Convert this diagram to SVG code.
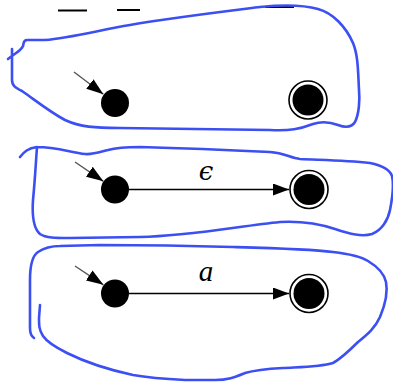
<svg xmlns="http://www.w3.org/2000/svg" width="393" height="383" viewBox="0 0 393 383">
<style>
.blob{fill:none;stroke:#3b4ff2;stroke-width:2.6;stroke-linecap:round;stroke-linejoin:round}
.start{fill:#000}
.ring{fill:#fff;stroke:#000;stroke-width:1.6}
.core{fill:#000}
.edge{stroke:#000;stroke-width:1.5;fill:none}
.init{stroke:#555;stroke-width:1.4;fill:none}
.lbl{font-family:"DejaVu Serif","Liberation Serif",serif;font-style:italic;font-size:26px;fill:#000;text-anchor:middle}
.ul{stroke:#000;stroke-width:2}
</style>
<defs>
<marker id="ah" markerUnits="userSpaceOnUse" markerWidth="16" markerHeight="12" refX="16" refY="6" orient="auto"><path d="M0,0 L16,6 L0,12 z" fill="#000"/></marker>
<marker id="ahi" markerUnits="userSpaceOnUse" markerWidth="17" markerHeight="12" refX="17" refY="6" orient="auto"><path d="M0,0 L17,6 L0,12 z" fill="#000"/></marker>
</defs>
<rect width="393" height="383" fill="#fff"/>
<g id="top-underlines">
<line class="ul" x1="58" y1="10.5" x2="87" y2="10.5"/>
<line class="ul" x1="117" y1="10" x2="140" y2="10"/>
<line class="ul" x1="265" y1="7" x2="294" y2="7"/>
</g>
<g id="outlines">
<path class="blob" d="M12,49 L12,80 C12,86 16,88 22,91 C35,100 50,112 65,120 C80,127 95,128 120,128 L270,130 C290,131 300,129 313,124 C322,121 330,122 338,125 C346,128 352,127 355,122 C359,114 360,100 359,90 C358,70 358,55 353,43 C346,27 333,13 318,9 C300,4 280,5 260,7 C220,12 170,18 130,25 C100,30 70,38 45,40 L27,40 C23,40 24,43 23,46 C21,51 14,54 8,59"/>
<path class="blob" d="M20,157 C24,152 28,148 37,147 C36,160 35,180 33,200 C32,215 33,228 40,234 C46,238 55,238 70,238 L140,237 C190,236 240,226 280,222 C300,221 320,224 335,229 C350,234 362,237 372,234 C382,230 388,220 390,210 C392,200 394,185 392,176 C390,170 384,166 370,163 C345,160 320,160 300,159 C290,158 285,153 270,152 C230,150 180,148 140,147 C125,147 115,148 108,150 C100,152 92,155 85,154 C70,152 55,147 37,147"/>
<path class="blob" d="M34,338 C31,336 30,333 30,328 L30,280 C30,265 32,256 38,252 C44,248 50,246 60,246 L100,245 C150,245 200,246 233,247 C270,248 310,249 333,252 C350,254 360,256 368,261 C378,267 384,273 386,282 C388,292 385,305 380,317 C375,328 368,334 358,342 C350,350 342,358 333,363 C320,367 300,367 283,368 C265,369 255,370 245,373 C235,377 228,380 215,380 L185,380 C165,379 150,378 133,375 C110,370 85,362 67,353 C55,347 47,342 43,336 C39,330 39,325 39,318 L40,305"/>
</g>
<g id="connectors">
<line class="init" x1="74" y1="72" x2="103.4" y2="94.3" marker-end="url(#ahi)"/>
<line class="init" x1="75" y1="162" x2="103.4" y2="181.3" marker-end="url(#ahi)"/>
<line class="init" x1="75" y1="266" x2="103.4" y2="284.8" marker-end="url(#ahi)"/>
<line class="edge" x1="129" y1="189.5" x2="289" y2="189.5" marker-end="url(#ah)"/>
<line class="edge" x1="129" y1="293.5" x2="289" y2="293.5" marker-end="url(#ah)"/>
<text class="lbl" x="206" y="180">ϵ</text>
<text class="lbl" x="206" y="281" style="font-family:'Liberation Serif',serif;font-size:29px">a</text>
</g>
<g id="q0-row1"><circle class="start" cx="115" cy="103" r="14"/></g>
<g id="qf-row1"><circle class="ring" cx="308" cy="100" r="19"/><circle class="core" cx="308" cy="100" r="15.5"/></g>
<g id="q0-row2"><circle class="start" cx="115" cy="189.5" r="14"/></g>
<g id="qf-row2"><circle class="ring" cx="309" cy="189.5" r="19"/><circle class="core" cx="309" cy="189.5" r="15.5"/></g>
<g id="q0-row3"><circle class="start" cx="115" cy="293.5" r="14"/></g>
<g id="qf-row3"><circle class="ring" cx="309" cy="293.5" r="19"/><circle class="core" cx="309" cy="293.5" r="15.5"/></g>
</svg>
